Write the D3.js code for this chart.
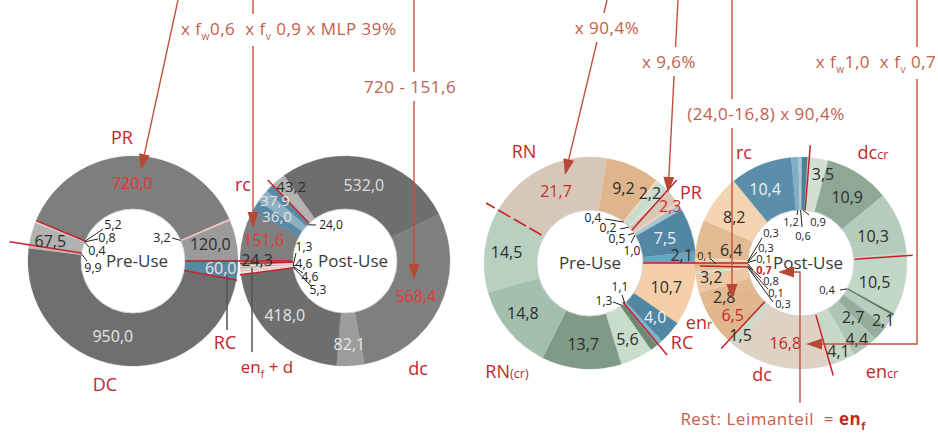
<!DOCTYPE html>
<html>
<head>
<meta charset="utf-8">
<script src="https://cdn.jsdelivr.net/npm/d3@7"></script>
<style>
  body { margin: 0; background: #fff; }
  svg { display: block; font-family: "Open Sans", Lato, sans-serif; font-weight: 400; }
  text { white-space: pre; }
</style>
</head>
<body>
<svg id="chart" width="938" height="435"></svg>
<script>
"use strict";

// ---------- data ----------
// left pair (Pre-Use -> Post-Use), values in the ring order, clockwise
const preUseA = [720.0, 3.2, 120.0, 60.0, 950.0, 9.9, 67.5, 0.4, 0.8, 5.2];
const postUseA = [532.0, 568.4, 82.1, 418.0, 5.3, 4.6, 4.6, 1.3, 24.3, 151.6, 36.0, 37.9, 24.0, 43.2];
// right pair
const preUseB = [21.7, 9.2, 0.4, 2.2, 0.2, 2.3, 0.5, 1.0, 7.5, 2.1, 10.7, 4.0, 1.1, 1.3, 5.6, 13.7, 14.8, 14.5];
const postUseB = [3.5, 10.9, 10.3, 10.5, 0.4, 2.1, 2.7, 4.4, 4.1, 16.8, 1.5, 6.5, 2.8, 3.2,
                  0.3, 0.1, 0.8, 0.7, 0.1, 0.3, 0.3, 0.1, 6.4, 8.2, 10.4, 1.2, 0.6, 0.9];

const ringTitles = ["Pre-Use", "Post-Use", "Pre-Use", "Post-Use"];

// ---------- styles ----------
const colorsPreA = ["#7e7f7d", "#e9c9c2", "#9b9b9b", "#5a88a1", "#6f6f6f", "#c9b3ad", "#b2b2b0", "#d9d9d9", "#c7c7c7", "#e2cfc9"];
const colorsPostA = ["#6e6e6e", "#7f7f7f", "#9d9d9d", "#6e6e6e", "#e7d2cc", "#f2e2dd", "#d8b9b2", "#efe0dc",
                     "#b4b4b4", "#7f7f7f", "#5a89a2", "#8cafc1", "#5a89a2", "#b3b3b1"];
const colorsPreB = ["#d6c8b9", "#dfb58b", "#f2d5b6", "#c9dccd", "#e4eee6", "#d6c8b9", "#f1cfa9", "#a7c6d3", "#5287a3",
                    "#6fa3bb", "#f4cfa8", "#5287a3", "#7fb1c8", "#6c8a72", "#c9ddcd", "#809a88", "#a5bfae", "#b7d0c0"];
const colorsPostB = ["#d3e1d5", "#8fa795", "#b5cbbb", "#c2d7c6", "#5d7466", "#b9cdbe", "#95ad9b", "#afc5b4", "#c6d9c9",
                     "#ddd2c4", "#c8dccb", "#e1b68d", "#e3b990", "#ecc9a3", "#cfe0d2", "#f4e3d2", "#e6c29c", "#e0b58b",
                     "#f4e3d2", "#e9c7a2", "#f0d3b3", "#f8efe6", "#e3bb92", "#f5d4b2", "#5b8fa9", "#7fafc5", "#a4c7d6", "#4d7f97"];

const RED = "#c1272d";
const RULE = "#c8202a";
const NOTE = "#c25e4c";
const NOTE_LINE = "#c0513f";
const ARROW = "#b84836";
const DARK = "#2d2d2d";
const LIGHT = "#e6e6e6";

const fmt = (v) => d3.format(".1f")(v).replace(".", ",");
const rad = Math.PI / 180;
const polar = (cx, cy, a, r) => [cx + r * Math.sin(a * rad), cy - r * Math.cos(a * rad)];

// ring geometry + label placement
const rings = [
    {
        values: preUseA, colors: colorsPreA, cx: 133, cy: 261, rIn: 52, rOut: 105, start: -67.4, titleX: 137, small: 12.5,
        inside: { 0: { r: 78, fill: "#e8333a" }, 2: { r: 79 }, 3: { r: 88, fill: LIGHT }, 4: { a: 195, r: 78, fill: LIGHT }, 6: { a: 283.5, r: 85 } },
        leaders: {
            1: { x: 162, y: 238, ex: 172, ey: 238 },
            5: { x: 93, y: 268, ex: 87, ey: 261 },
            7: { x: 97, y: 251, ex: 89, ey: 247 },
            8: { x: 107, y: 238, ex: 98, ey: 239 },
            9: { x: 113, y: 225, ex: 103, ey: 229 }
        },
        rules: [
            { a: 292.6, r0: 52, r1: 105 }, { a: 278.9, r0: 52, r1: 125 },
            { a: 67, r0: 52, r1: 105, c: "#f0c2bb" }, { a: 100.5, r0: 52, r1: 106 }, { a: 90, r0: 52, r1: 159 }
        ]
    },
    {
        values: postUseA, colors: colorsPostA, cx: 345, cy: 261, rIn: 52, rOut: 105, start: -35.56, titleX: 353, small: 12,
        inside: {
            0: { r: 78, fill: "#dedede" }, 1: { r: 79, fill: "#e53935" }, 2: { r: 84, fill: LIGHT }, 3: { a: 228, r: 81, fill: LIGHT },
            8: { a: 270.6, r: 88 }, 9: { a: 284.5, r: 84, fill: "#e53935" }, 10: { a: 303, r: 81, fill: LIGHT, size: 15 },
            11: { a: 310.6, r: 92, fill: LIGHT, size: 15 }, 13: { a: 324.2, r: 92, size: 15 }
        },
        leaders: {
            4: { x: 318, y: 290, ex: 311, ey: 286 },
            5: { x: 310, y: 277, ex: 303, ey: 273 },
            6: { x: 304, y: 264, ex: 297, ey: 265 },
            7: { x: 304, y: 247, ex: 296, ey: 253 },
            12: { x: 331, y: 225, ex: 316, ey: 225 }
        },
        rules: [
            { a: 316.4, r0: 52, r1: 112 }, { a: 262.5, r0: 52, r1: 106 },
            { a: 265.4, r0: 52, r1: 105, c: "#f3d9d3" }, { a: 267.3, r0: 52, r1: 105, c: "#f3d9d3" },
            { a: 268.6, r0: 52, r1: 105 }
        ]
    },
    {
        values: preUseB, colors: colorsPreB, cx: 590, cy: 263, rIn: 53, rOut: 106, start: -59.9, titleX: 590, small: 12,
        inside: {
            0: { a: 334.5, r: 79, fill: "#c62c2c" }, 1: { a: 24, r: 82 }, 3: { a: 40.6, r: 92 }, 5: { a: 55, r: 98, fill: "#d32f2f" },
            8: { r: 79, fill: "#eef3f6" }, 9: { a: 85, r: 92 }, 10: { r: 80 }, 11: { a: 130, r: 85, fill: "#eef3f6" },
            14: { r: 85 }, 15: { r: 82 }, 16: { a: 233, r: 84 }, 17: { r: 84 }
        },
        leaders: {
            2: { x: 593, y: 218, ex: 605, ey: 219 },
            4: { x: 608, y: 228, ex: 620, ey: 229 },
            6: { x: 617, y: 239, ex: 628, ey: 235 },
            7: { x: 632, y: 251, ex: 631, ey: 243 },
            12: { x: 620, y: 287, ex: 622, ey: 295 },
            13: { x: 604, y: 301, ex: 613, ey: 302 }
        },
        rules: [
            { a: 300, r0: 56, r1: 120, dash: "14 4" }, { a0: 52, r0: 53, a1: 46.3, r1: 120 },
            { a: 90, r0: 53, r1: 158 }, { a: 140, r0: 51, r1: 120 }
        ]
    },
    {
        values: postUseB, colors: colorsPostB, cx: 801, cy: 263, rIn: 53, rOut: 106, start: 3.5, titleX: 808, small: 11,
        inside: {
            0: { a: 14, r: 91 }, 1: { a: 35.3, r: 80 }, 2: { a: 69.4, r: 77 }, 3: { a: 104.4, r: 76 }, 5: { a: 124.8, r: 100 },
            6: { a: 136, r: 75 }, 7: { a: 144, r: 95 }, 8: { a: 157, r: 96 }, 9: { a: 191, r: 82, fill: "#c62828" },
            10: { a: 220, r: 94 }, 11: { a: 232.6, r: 86, fill: "#c62828" }, 12: { a: 246, r: 84 }, 13: { a: 261, r: 91 },
            22: { a: 280.5, r: 71 }, 23: { a: 304.5, r: 81 }, 24: { a: 334, r: 82, fill: "#eef3f6" }
        },
        leaders: {
            4: { x: 827, y: 290, ex: 840, ey: 290 },
            14: { x: 783, y: 304, ex: 773, ey: 302 },
            15: { x: 776, y: 293, ex: 768, ey: 289 },
            16: { x: 771, y: 281.5, ex: 761, ey: 278 },
            17: { x: 764, y: 270.5, ex: 753, ey: 270, fill: "#c62828", bold: true },
            18: { x: 764, y: 259.5, ex: 756, ey: 260 },
            19: { x: 766, y: 248.5, ex: 757, ey: 252 },
            20: { x: 771, y: 233.5, ex: 762, ey: 238 },
            21: { x: 705, y: 256, sx: 711, sy: 259, ex: 716, ey: 264 },
            25: { x: 791, y: 222, ex: 797, ey: 215 },
            26: { x: 803, y: 236, ex: 802, ey: 227 },
            27: { x: 818, y: 222, ex: 809, ey: 215 }
        },
        rules: [
            { a: 4.5, r0: 53, r1: 118 }, { a: 86, r0: 54, r1: 112 }, { a: 164, r0: 54, r1: 117 },
            { a: 223, r0: 53, r1: 117 }, { a0: 265.7, r0: 53, a1: 268.3, r1: 101 }
        ]
    }
];

const svg = d3.select("#chart");

// ---------- rings ----------
rings.forEach((ring) => {
    const pie = d3.pie().sort(null).value((v) => v)
        .startAngle(ring.start * rad).endAngle(ring.start * rad + 2 * Math.PI);
    const arcs = pie(ring.values);
    const arc = d3.arc().innerRadius(ring.rIn).outerRadius(ring.rOut);
    const g = svg.append("g").attr("transform", `translate(${ring.cx},${ring.cy})`);

    g.selectAll("path.seg")
        .data(arcs)
        .join("path")
        .attr("class", "seg")
        .attr("d", arc)
        .attr("fill", (d, i) => ring.colors[i])
        .attr("stroke", (d, i) => ring.colors[i])
        .attr("stroke-width", 0.3);

    g.append("circle").attr("r", ring.rIn).attr("fill", "#fff")
        .attr("stroke", "#c9c9c9").attr("stroke-width", 0.8);

    ring.mid = (i) => (arcs[i].startAngle + arcs[i].endAngle) / 2 / rad;
});

// separator rules (drawn over rings)
rings.forEach((ring) => {
    ring.rules.forEach((rl) => {
        const p0 = polar(ring.cx, ring.cy, rl.a0 !== undefined ? rl.a0 : rl.a, rl.r0);
        const p1 = polar(ring.cx, ring.cy, rl.a1 !== undefined ? rl.a1 : rl.a, rl.r1);
        svg.append("line")
            .attr("x1", p0[0]).attr("y1", p0[1]).attr("x2", p1[0]).attr("y2", p1[1])
            .attr("stroke", rl.c || RULE).attr("stroke-width", 1.5)
            .attr("stroke-dasharray", rl.dash || null);
    });
});

// value labels
rings.forEach((ring, k) => {
    Object.entries(ring.inside).forEach(([key, spec]) => {
        const i = +key;
        const a = spec.a !== undefined ? spec.a : ring.mid(i);
        const r = spec.r !== undefined ? spec.r : (ring.rIn + ring.rOut) / 2;
        const p = polar(ring.cx, ring.cy, a, r);
        svg.append("text")
            .attr("x", p[0]).attr("y", p[1]).attr("dy", "0.35em")
            .attr("text-anchor", "middle")
            .attr("font-size", spec.size || 16)
            .attr("fill", spec.fill || DARK)
            .text(fmt(ring.values[i]));
    });
    Object.entries(ring.leaders).forEach(([key, spec]) => {
        const i = +key;
        const s = spec.sx !== undefined ? [spec.sx, spec.sy] : polar(ring.cx, ring.cy, ring.mid(i), ring.rIn);
        svg.append("line")
            .attr("x1", s[0]).attr("y1", s[1]).attr("x2", spec.ex).attr("y2", spec.ey)
            .attr("stroke", "#222").attr("stroke-width", 1);
        svg.append("text")
            .attr("x", spec.x).attr("y", spec.y).attr("dy", "0.35em")
            .attr("text-anchor", "middle")
            .attr("font-size", ring.small)
            .attr("font-weight", spec.bold ? 700 : null)
            .attr("fill", spec.fill || "#222")
            .text(fmt(ring.values[i]));
    });
    svg.append("text")
        .attr("x", ring.titleX).attr("y", ring.cy).attr("dy", "0.35em")
        .attr("text-anchor", "middle").attr("font-size", 17).attr("fill", "#3a3a3a")
        .text(ringTitles[k]);
});

// ---------- helpers for rich text ----------
function richText(sel, parts, size) {
    let shift = 0;
    parts.forEach((p) => {
        const t = sel.append("tspan").text(p.t);
        if (p.sub) {
            t.attr("font-size", size * 0.6).attr("dy", 5 - shift);
            shift = 5;
        } else {
            if (shift) t.attr("dy", -shift);
            shift = 0;
            if (p.small) t.attr("font-size", size * 0.7);
        }
        if (p.fill) t.attr("fill", p.fill);
        if (p.bold) t.attr("font-weight", 700);
    });
}

// ---------- category labels ----------
const categoryLabels = [
    { parts: [{ t: "PR" }], x: 122, y: 138 },
    { parts: [{ t: "DC" }], x: 105, y: 385 },
    { parts: [{ t: "RC" }], x: 225, y: 343 },
    { parts: [{ t: "rc" }], x: 243, y: 185 },
    { parts: [{ t: "en" }, { t: "f", sub: true }, { t: " + d" }], x: 267, y: 367, size: 17 },
    { parts: [{ t: "dc" }], x: 418, y: 369 },
    { parts: [{ t: "RN" }], x: 524, y: 152 },
    { parts: [{ t: "PR" }], x: 691, y: 193 },
    { parts: [{ t: "rc" }], x: 744, y: 153 },
    { parts: [{ t: "dc" }, { t: "cr", small: true }], x: 873, y: 153 },
    { parts: [{ t: "en" }, { t: "r", small: true }], x: 699, y: 323 },
    { parts: [{ t: "RC" }], x: 682, y: 343 },
    { parts: [{ t: "RN" }, { t: "(cr)", small: true }], x: 507, y: 372 },
    { parts: [{ t: "dc" }], x: 762, y: 375 },
    { parts: [{ t: "en" }, { t: "cr", small: true }], x: 882, y: 372 }
];

// grey pointer lines
[[227, 275, 227, 330], [252, 268, 252, 352]].forEach((l) => {
    svg.append("line").attr("x1", l[0]).attr("y1", l[1]).attr("x2", l[2]).attr("y2", l[3])
        .attr("stroke", "#555").attr("stroke-width", 1.5);
});

categoryLabels.forEach((c) => {
    const size = c.size || 18;
    const t = svg.append("text")
        .attr("x", c.x).attr("y", c.y).attr("dy", "0.35em")
        .attr("text-anchor", "middle").attr("font-size", size)
        .attr("fill", RED);
    richText(t, c.parts, size);
});

// ---------- annotation arrows ----------
function arrow(points) {
    const n = points.length;
    const tip = points[n - 1];
    const from = points[n - 2];
    const dx = tip[0] - from[0], dy = tip[1] - from[1];
    const len = Math.hypot(dx, dy);
    const ux = dx / len, uy = dy / len;
    const base = [tip[0] - ux * 16, tip[1] - uy * 16];
    const line = points.slice(0, n - 1).concat([base]);
    svg.append("path")
        .attr("d", d3.line()(line))
        .attr("fill", "none").attr("stroke", NOTE_LINE).attr("stroke-width", 1.4);
    svg.append("path")
        .attr("d", d3.line()([tip, [base[0] - uy * 5.5, base[1] + ux * 5.5], [base[0] + uy * 5.5, base[1] - ux * 5.5]]) + "Z")
        .attr("fill", ARROW);
}

const arrows = [
    [[178, 0], [141, 170]],
    [[253, 0], [253, 228]],
    [[414, 0], [414, 280]],
    [[607, 0], [565, 175]],
    [[678, 0], [668, 193]],
    [[732, 0], [732, 300]],
    [[917, 0], [917, 344], [806, 344]],
    [[800, 403], [800, 272], [778, 272]]
];
arrows.forEach(arrow);

// ---------- annotation texts ----------
const notes = [
    { x: 181, y: 35, anchor: "start", parts: [{ t: "x f" }, { t: "w", sub: true }, { t: "0,6  x f" }, { t: "v", sub: true }, { t: " 0,9 x MLP 39%" }] },
    { x: 410, y: 93, parts: [{ t: "720 - 151,6" }] },
    { x: 607, y: 34, parts: [{ t: "x 90,4%" }] },
    { x: 669, y: 68, parts: [{ t: "x 9,6%" }] },
    { x: 766, y: 120, parts: [{ t: "(24,0-16,8) x 90,4%" }] },
    { x: 876, y: 68, parts: [{ t: "x f" }, { t: "w", sub: true }, { t: "1,0  x f" }, { t: "v", sub: true }, { t: " 0,7" }] },
    { x: 773, y: 425, parts: [{ t: "Rest: Leimanteil  = " }, { t: "en", fill: RED, bold: true }, { t: "f", sub: true, fill: RED, bold: true }] }
];
notes.forEach((nt) => {
    const g = svg.append("g");
    const bg = g.append("rect").attr("fill", "#fff");
    const t = g.append("text")
        .attr("x", nt.x).attr("y", nt.y)
        .attr("text-anchor", nt.anchor || "middle")
        .attr("font-size", 17).attr("letter-spacing", 0.5).attr("fill", NOTE);
    richText(t, nt.parts, 17);
    const b = t.node().getBBox();
    bg.attr("x", b.x - 3).attr("y", b.y - 3).attr("width", b.width + 6).attr("height", b.height + 6);
});
</script>
</body>
</html>
